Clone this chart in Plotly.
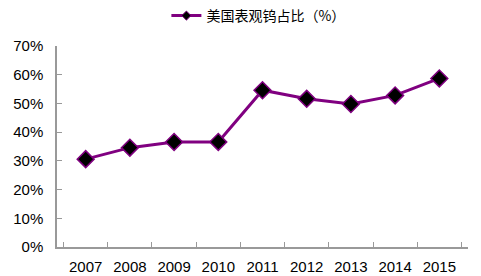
import plotly.graph_objects as go

years = ["2007", "2008", "2009", "2010", "2011", "2012", "2013", "2014", "2015"]
share = [30.6, 34.6, 36.6, 36.6, 54.6, 51.6, 49.8, 52.8, 58.7]
series_name = "美国表观钨占比（%）"
y_ticks = [0, 10, 20, 30, 40, 50, 60, 70]
y_tick_labels = [f"{v}%" for v in y_ticks]

fig = go.Figure()
fig.add_trace(go.Scatter(
    x=years, y=share, name=series_name, mode="lines+markers",
    line=dict(color="#800080", width=3),
    marker=dict(symbol="diamond", size=13, color="#000000",
                line=dict(color="#800080", width=1.5)),
    showlegend=False,
))
# legend entry with a smaller marker, as in the reference
fig.add_trace(go.Scatter(
    x=[None], y=[None], name=series_name, mode="lines+markers",
    line=dict(color="#800080", width=3),
    marker=dict(symbol="diamond", size=7, color="#000000",
                line=dict(color="#800080", width=1)),
    showlegend=True,
))

fig.update_layout(
    width=481, height=276,
    margin=dict(l=57, r=13, t=46, b=29, autoexpand=False),
    paper_bgcolor="white", plot_bgcolor="white",
    font=dict(family="Liberation Sans, Arial, sans-serif", size=15, color="#000000"),
    showlegend=True,
    legend=dict(orientation="h", x=0.49, xanchor="center", y=1.0, yanchor="top",
                yref="container", font=dict(family="Noto Sans CJK SC", size=14),
                itemwidth=30, bgcolor="rgba(0,0,0,0)"),
    xaxis=dict(type="category", showline=True, linecolor="#999999", linewidth=1.5,
               ticks="inside", ticklen=5, tickcolor="#999999", tickson="boundaries",
               ticklabelstandoff=5,
               showgrid=False, zeroline=False, fixedrange=True),
    yaxis=dict(range=[0, 70], tickvals=y_ticks, ticktext=y_tick_labels,
               showline=True, linecolor="#999999", linewidth=1.5,
               ticks="inside", ticklen=5, tickcolor="#999999",
               ticklabelstandoff=9,
               showgrid=False, zeroline=False),
)

fig.write_html("out.html")
